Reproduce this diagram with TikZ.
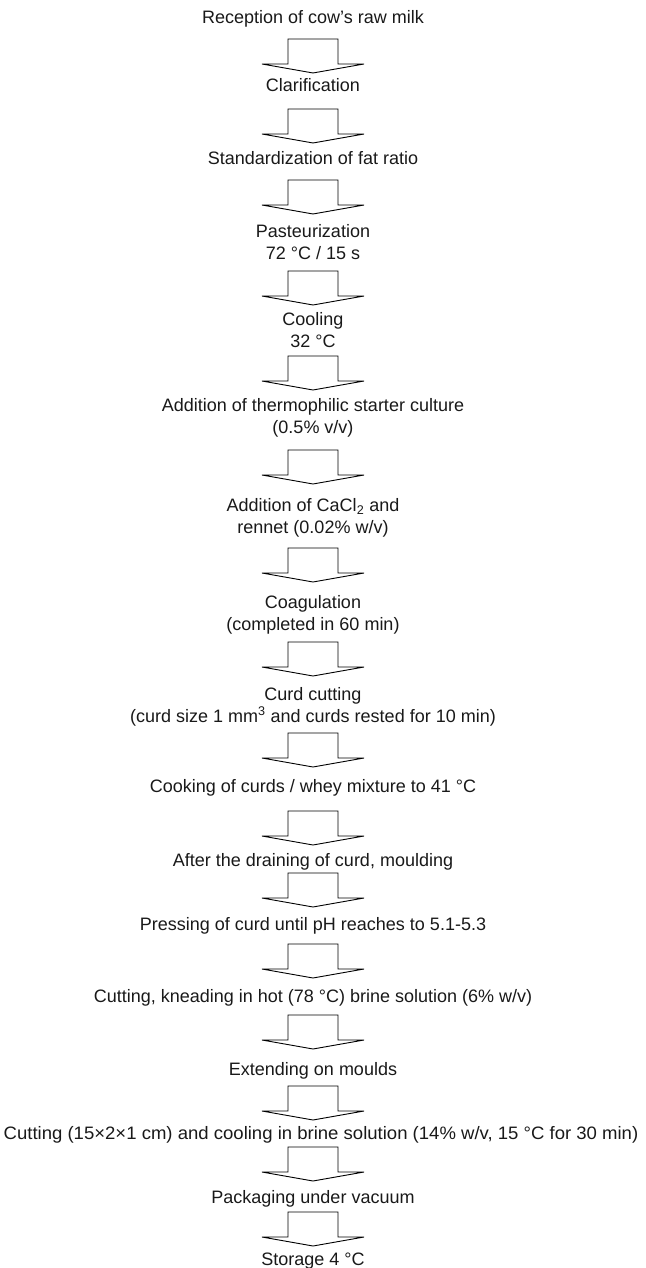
\documentclass[tikz,border=0pt]{standalone}
\usepackage{fontspec}
\setmainfont{Liberation Sans}
\begin{document}
\begin{tikzpicture}[x=1pt,y=-1pt,
  steptext/.style={anchor=base, align=center, inner sep=0pt, text=black!90,
    font=\fontsize{18}{21.5}\selectfont},
  blockarrow/.pic={\draw[line width=0.9pt, line join=miter]
    (-25,0) -- (25,0) -- (25,25) -- (51,25) -- (0,34) -- (-51,25) -- (-25,25) -- cycle;}
]
\useasboundingbox (0,0) rectangle (645,1268);
% single-line nodes: position = baseline; two-line nodes: position = baseline of last line
\node[steptext] (s1) at (313,24) {Reception of cow’s raw milk};
\coordinate (a1) at (313,39);
\node[steptext] (s2) at (313,92) {Clarification};
\coordinate (a2) at (313,109);
\node[steptext] (s3) at (313,165) {Standardization of fat ratio};
\coordinate (a3) at (313,180);
\node[steptext] (s4) at (313,259) {Pasteurization\\72 °C / 15 s};
\coordinate (a4) at (313,271);
\node[steptext] (s5) at (313,347) {Cooling\\32 °C};
\coordinate (a5) at (313,356);
\node[steptext] (s6) at (313,433) {Addition of thermophilic starter culture\\(0.5\% v/v)};
\coordinate (a6) at (313,450);
\node[steptext] (s7) at (313,533) {Addition of CaCl\textsubscript{2} and\\rennet (0.02\% w/v)};
\coordinate (a7) at (313,548);
\node[steptext] (s8) at (313,630) {Coagulation\\(completed in 60 min)};
\coordinate (a8) at (313,642);
\node[steptext] (s9) at (313,722) {Curd cutting\\(curd size 1 mm\textsuperscript{3} and curds rested for 10 min)};
\coordinate (a9) at (313,733);
\node[steptext] (s10) at (313,792) {Cooking of curds / whey mixture to 41 °C};
\coordinate (a10) at (313,811);
\node[steptext] (s11) at (313,866) {After the draining of curd, moulding};
\coordinate (a11) at (313,873);
\node[steptext] (s12) at (313,930) {Pressing of curd until pH reaches to 5.1-5.3};
\coordinate (a12) at (313,944);
\node[steptext] (s13) at (313,1002) {Cutting, kneading in hot (78 °C) brine solution (6\% w/v)};
\coordinate (a13) at (313,1015);
\node[steptext] (s14) at (313,1075) {Extending on moulds};
\coordinate (a14) at (313,1086);
\node[steptext, xscale=1.03, transform shape] (s15) at (321,1139) {Cutting (15×2×1 cm) and cooling in brine solution (14\% w/v, 15 °C for 30 min)};
\coordinate (a15) at (313,1147);
\node[steptext] (s16) at (313,1203) {Packaging under vacuum};
\coordinate (a16) at (313,1212);
\node[steptext] (s17) at (313,1265) {Storage 4 °C};
\foreach \k in {1,...,16} {\pic at (a\k) {blockarrow};}
\end{tikzpicture}
\end{document}
